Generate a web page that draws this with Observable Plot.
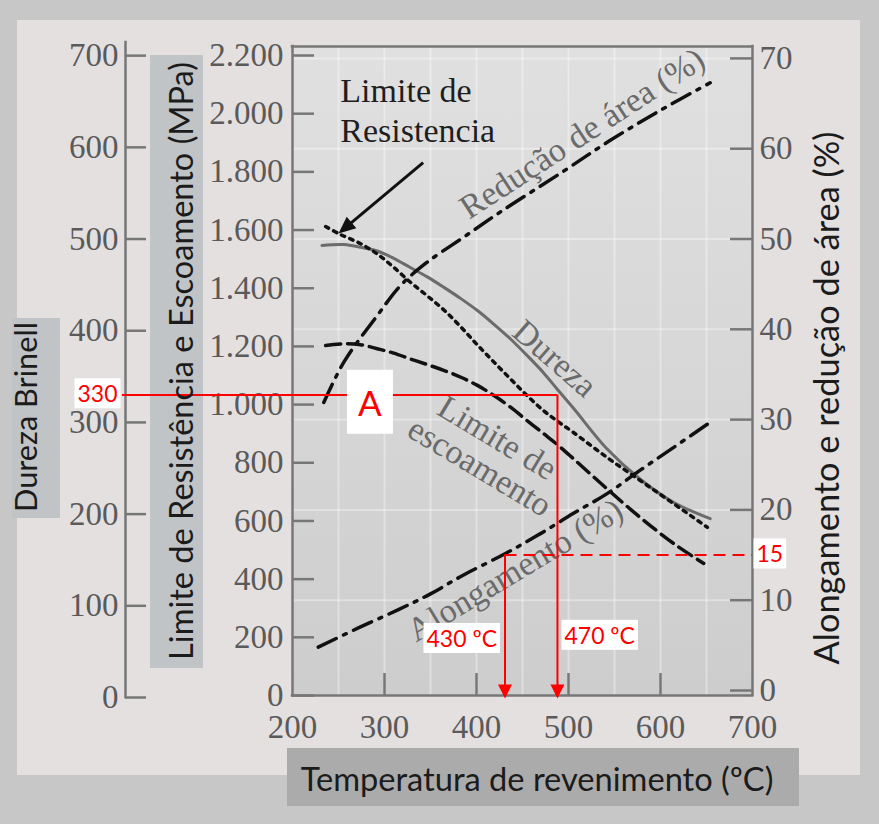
<!DOCTYPE html>
<html><head><meta charset="utf-8">
<script src="https://cdn.jsdelivr.net/npm/d3@7"></script>
<script src="https://cdn.jsdelivr.net/npm/@observablehq/plot@0.6"></script>
<style>html,body{margin:0;padding:0;background:#c7c7c7;} svg{display:block;}</style>
</head><body><div id="chart"></div>
<script>
// ---------------- data ----------------
const tempTicks = [200, 300, 400, 500, 600, 700];
const mpaTicks = [0, 200, 400, 600, 800, 1000, 1200, 1400, 1600, 1800, 2000, 2200];
const mpaTickLabels = ["0", "200", "400", "600", "800", "1.000", "1.200", "1.400", "1.600", "1.800", "2.000", "2.200"];
const brinellTicks = [0, 100, 200, 300, 400, 500, 600, 700];
const pctTicks = [0, 10, 20, 30, 40, 50, 60, 70];

const durezaTemp = [232, 256, 274, 292, 310, 328, 346, 365, 383, 401, 419, 437, 455, 473, 488, 505, 542, 578, 614, 654];
const durezaHB   = [493, 494, 491, 487, 479, 469, 459, 447, 435, 422, 407, 391, 373, 354, 336, 316, 271, 238, 213, 195];
const resistTemp = [236, 252, 274, 292, 310, 328, 346, 365, 383, 401, 419, 437, 455, 473, 488, 505, 542, 578, 614, 651];
const resistMPa  = [1612, 1585, 1553, 1518, 1472, 1421, 1375, 1324, 1267, 1205, 1146, 1088, 1031, 979, 943, 905, 818, 739, 660, 578];
const escoTemp   = [236, 256, 274, 292, 310, 328, 346, 365, 383, 401, 419, 437, 455, 473, 488, 505, 542, 578, 614, 647];
const escoMPa    = [1203, 1209, 1206, 1192, 1177, 1157, 1138, 1117, 1094, 1066, 1031, 991, 945, 900, 862, 815, 710, 612, 523, 454];
const reducTemp  = [234, 256, 292, 317, 346, 386, 426, 493, 545, 599, 654];
const reducPct   = [31.9, 36.4, 41.5, 44.8, 47.4, 50.2, 53.0, 57.4, 60.9, 64.2, 67.3];
const alongTemp  = [228, 271, 314, 350, 386, 432, 470, 505, 542, 578, 614, 654];
const alongPct   = [4.8, 6.9, 8.9, 10.7, 12.8, 15.2, 17.4, 19.6, 21.8, 24.4, 26.9, 29.7];

// reading annotations (red)
const readHB = 330;
const readPct = 15;
const readTemps = [431, 488];               // where the red arrows are drawn
const readTempLabels = ["430 ºC", "470 ºC"];
const pointLabel = "A";

// curve labels
const curveLabels = [
  {text: "Redução de área (%)", x: 515, y: 1932, rotate: -33},
  {text: "Dureza", x: 485, y: 1158, rotate: 41},
  {text: "Limite de\nescoamento", x: 413, y: 835, rotate: 31},
  {text: "Alongamento (%)", x: 442, y: 430, rotate: -31}
];
const resistLabel = "Limite de\nResistencia";

// ---------------- layout constants ----------------
// secondary axes drawn on the MPa scale
const hb = h => -6.9 + 3.152 * h;
const pct = p => 17.2 + 31.04 * p;
const xPx = 460 / 500, yPx = 640 / 2200;  // pixels per unit
const TOP = 2231;                          // frame top
const BRINELL_X = 200 - 167 / xPx;
const BRINELL_TICK_X = 200 - 146 / xPx;
const RED_START_X = 200 - 170 / xPx;
const TL_X = 22 / xPx, TL_Y = 22 / yPx;
const SERIF = "Liberation Serif, DejaVu Serif, serif";
const SANS = "Lato, Open Sans, sans-serif";
const RED = "#ff0000";
const AX = "#777777";
const TXT = "#5a5a5a";

function head(angleDeg, len, halfW) {
  const a = angleDeg * Math.PI / 180, c = Math.cos(a), s = Math.sin(a);
  return {draw(ctx) {
    const bx = -len * c, by = -len * s;
    ctx.moveTo(0, 0);
    ctx.lineTo(bx - s * halfW, by + c * halfW);
    ctx.lineTo(bx + s * halfW, by - c * halfW);
    ctx.closePath();
  }};
}
const arrowAngle = Math.atan2(244 * yPx, -92 * xPx) * 180 / Math.PI;

const plot = Plot.plot({
  width: 879, height: 824,
  marginLeft: 292, marginRight: 127, marginTop: 55, marginBottom: 129,
  x: {domain: [200, 700], axis: null},
  y: {domain: [0, 2200], axis: null},
  style: {background: "transparent", overflow: "visible"},
  marks: [
    // faint grid
    Plot.ruleX(d3.range(250, 700, 50), {y1: 0, y2: TOP, stroke: "#ffffff", strokeOpacity: 0.35, strokeWidth: 2}),
    Plot.ruleY(pctTicks.slice(1), {y: p => pct(p), x1: 200, x2: 700, stroke: "#ffffff", strokeOpacity: 0.35, strokeWidth: 2}),
    // frame
    Plot.ruleX([200, 700], {y1: 0, y2: TOP, stroke: AX, strokeWidth: 2.5, strokeLinecap: "square"}),
    Plot.ruleY([0, TOP], {x1: 200, x2: 700, stroke: AX, strokeWidth: 2.5, strokeLinecap: "square"}),
    // inward ticks
    Plot.ruleY(mpaTicks, {x1: 200, x2: 200 + TL_X, stroke: AX, strokeWidth: 2.5}),
    Plot.ruleY(pctTicks, {y: p => pct(p), x1: 700 - TL_X, x2: 700, stroke: AX, strokeWidth: 2.5}),
    Plot.ruleX(tempTicks.slice(1, -1), {y1: 0, y2: TL_Y, stroke: AX, strokeWidth: 2.5}),
    // Brinell axis
    Plot.ruleX([BRINELL_X], {y1: hb(0), y2: 2245, stroke: AX, strokeWidth: 2.5, strokeLinecap: "square"}),
    Plot.ruleY(brinellTicks, {y: b => hb(b), x1: BRINELL_X, x2: BRINELL_TICK_X, stroke: AX, strokeWidth: 2.5}),
    // tick labels
    Plot.text(mpaTicks, {x: 200, y: d => d, text: (d, i) => mpaTickLabels[i], textAnchor: "end", dx: -9, fontSize: 33, fontFamily: SERIF, fill: TXT}),
    Plot.text(brinellTicks, {x: BRINELL_X, y: b => hb(b), text: d => String(d), textAnchor: "end", dx: -7, fontSize: 33, fontFamily: SERIF, fill: TXT}),
    Plot.text(pctTicks, {x: 700, y: p => pct(p), text: d => String(d), textAnchor: "start", dx: 7, fontSize: 33, fontFamily: SERIF, fill: TXT}),
    Plot.text(tempTicks, {x: d => d, y: 0, text: d => String(d), dy: 32, fontSize: 33, fontFamily: SERIF, fill: TXT}),
    // curves
    Plot.line(durezaTemp, {x: d => d, y: (d, i) => hb(durezaHB[i]), curve: "catmull-rom", stroke: "#6b6b6b", strokeWidth: 3}),
    Plot.line(resistTemp, {x: d => d, y: (d, i) => resistMPa[i], curve: "catmull-rom", stroke: "#111", strokeWidth: 3.5, strokeDasharray: "3.5 5.5"}),
    Plot.line(escoTemp, {x: d => d, y: (d, i) => escoMPa[i], curve: "catmull-rom", stroke: "#111", strokeWidth: 3.5, strokeDasharray: "15 7"}),
    Plot.line(reducTemp, {x: d => d, y: (d, i) => pct(reducPct[i]), curve: "catmull-rom", stroke: "#111", strokeWidth: 3.5, strokeDasharray: "20 8 3 8"}),
    Plot.line(alongTemp, {x: d => d, y: (d, i) => pct(alongPct[i]), curve: "catmull-rom", stroke: "#111", strokeWidth: 3.5, strokeDasharray: "20 8 3 8"}),
    // curve labels
    Plot.text(curveLabels, {x: "x", y: "y", text: "text", rotate: "rotate", fontSize: 34, lineHeight: 1.0, fontFamily: SERIF, fill: "#6a6a6a"}),
    Plot.text([resistLabel], {x: 252, y: 2138, text: d => d, textAnchor: "start", lineAnchor: "top", lineHeight: 1.18, fontSize: 34, fontFamily: SERIF, fill: "#1e1e1e"}),
    Plot.link([0], {x1: 342, y1: 1832, x2: 254, y2: 1599, stroke: "#111", strokeWidth: 3}),
    Plot.dot([0], {x: 250, y: 1588, symbol: head(arrowAngle, 17, 7.5), r: 5, fill: "#111", stroke: null}),
    // red reading lines
    Plot.ruleY([readHB], {y: b => hb(b), x1: RED_START_X, x2: readTemps[1], stroke: RED, strokeWidth: 2}),
    Plot.ruleY([readPct], {y: p => pct(p), x1: readTemps[0], x2: 700, stroke: RED, strokeWidth: 2, strokeDasharray: "12 7"}),
    Plot.ruleX([readTemps[0]], {y1: pct(readPct), y2: 0, stroke: RED, strokeWidth: 2}),
    Plot.ruleX([readTemps[1]], {y1: hb(readHB), y2: 0, stroke: RED, strokeWidth: 2}),
    Plot.dot(readTemps, {x: d => d, y: 0, dy: 3, symbol: head(90, 14, 7), r: 5, fill: RED, stroke: null}),
    // red labels
    Plot.text([readHB], {x: RED_START_X, y: b => hb(b), text: d => String(d), textAnchor: "end", dx: -5, fontSize: 23, fontFamily: SANS, fill: RED}),
    Plot.text([readPct], {x: 700, y: p => pct(p), text: d => String(d), textAnchor: "start", dx: 4, fontSize: 23, fontFamily: SANS, fill: RED}),
    Plot.text([readTempLabels[0]], {x: readTemps[0], y: 192, text: d => d, textAnchor: "end", dx: -8, fontSize: 23, fontFamily: SANS, fill: RED}),
    Plot.text([readTempLabels[1]], {x: readTemps[1], y: 203, text: d => d, textAnchor: "start", dx: 7, fontSize: 23, fontFamily: SANS, fill: RED}),
    Plot.text([pointLabel], {x: 284, y: 1000, text: d => d, fontSize: 35, fontFamily: SANS, fill: RED})
  ]
});

document.getElementById("chart").append(plot);

// ---------------- decorations (photo background, axis-title boxes) ----------------
const svg = d3.select(plot);
const sx = plot.scale("x"), sy = plot.scale("y");
const bg = svg.insert("g", ":first-child");
const defs = svg.insert("defs", ":first-child");
const grad = defs.append("linearGradient").attr("id", "plotbg").attr("x1", 0).attr("y1", 0).attr("x2", 0).attr("y2", 1);
grad.append("stop").attr("offset", "0%").attr("stop-color", "#e0e0e0");
grad.append("stop").attr("offset", "55%").attr("stop-color", "#d6d6d6");
grad.append("stop").attr("offset", "100%").attr("stop-color", "#cdcdcd");

bg.append("rect").attr("x", 0).attr("y", 0).attr("width", 879).attr("height", 824).attr("fill", "#c7c7c7");
bg.append("rect").attr("x", 17).attr("y", 20).attr("width", 843).attr("height", 755).attr("fill", "#e4e0e0");
const fx0 = sx.apply(200), fx1 = sx.apply(700), fy0 = sy.apply(TOP), fy1 = sy.apply(0);
bg.append("rect").attr("x", fx0).attr("y", fy0).attr("width", fx1 - fx0).attr("height", fy1 - fy0).attr("fill", "url(#plotbg)");

// axis title boxes
bg.append("rect").attr("x", 12).attr("y", 318).attr("width", 48).attr("height", 200).attr("fill", "#c1c4c7");
bg.append("rect").attr("x", 150).attr("y", 55).attr("width", 53).attr("height", 613).attr("fill", "#c1c4c7");
bg.append("rect").attr("x", 287).attr("y", 748).attr("width", 512).attr("height", 58).attr("fill", "#ababab");

function title(text, x, y, rot, target) {
  const t = svg.append("text").attr("transform", `translate(${x},${y}) rotate(${rot})`)
    .attr("text-anchor", "middle").attr("font-family", SANS).attr("font-size", 30)
    .attr("fill", "#1b1b1b").text(text);
  const len = t.node().getComputedTextLength();
  t.attr("font-size", 30 * target / len);
  return t;
}
title("Dureza Brinell", 37, 417, -90, 190);
title("Limite de Resistência e Escoamento (MPa)", 193, 361, -90, 598);
title("Alongamento e redução de área (%)", 839, 398, -90, 533);
title("Temperatura de revenimento (ºC)", 537, 791, 0, 473);

// white boxes behind the red labels
const svgBox = plot.getBoundingClientRect();
svg.selectAll("g").filter(function() {
  return this.getAttribute("aria-label") === "text" && (this.getAttribute("fill") || "").toLowerCase() === RED;
}).each(function() {
  const g = this;
  const big = +g.getAttribute("font-size") > 30;
  const px = big ? 11 : 3, py = big ? 11 : 1;
  d3.select(g).selectAll("text").each(function() {
    const b = this.getBoundingClientRect();
    const r = document.createElementNS("http://www.w3.org/2000/svg", "rect");
    r.setAttribute("x", b.left - svgBox.left - px);
    r.setAttribute("y", b.top - svgBox.top - py);
    r.setAttribute("width", b.width + 2 * px);
    r.setAttribute("height", b.height + 2 * py);
    r.setAttribute("fill", "#ffffff");
    g.parentNode.insertBefore(r, g);
  });
});
</script>
</body></html>
